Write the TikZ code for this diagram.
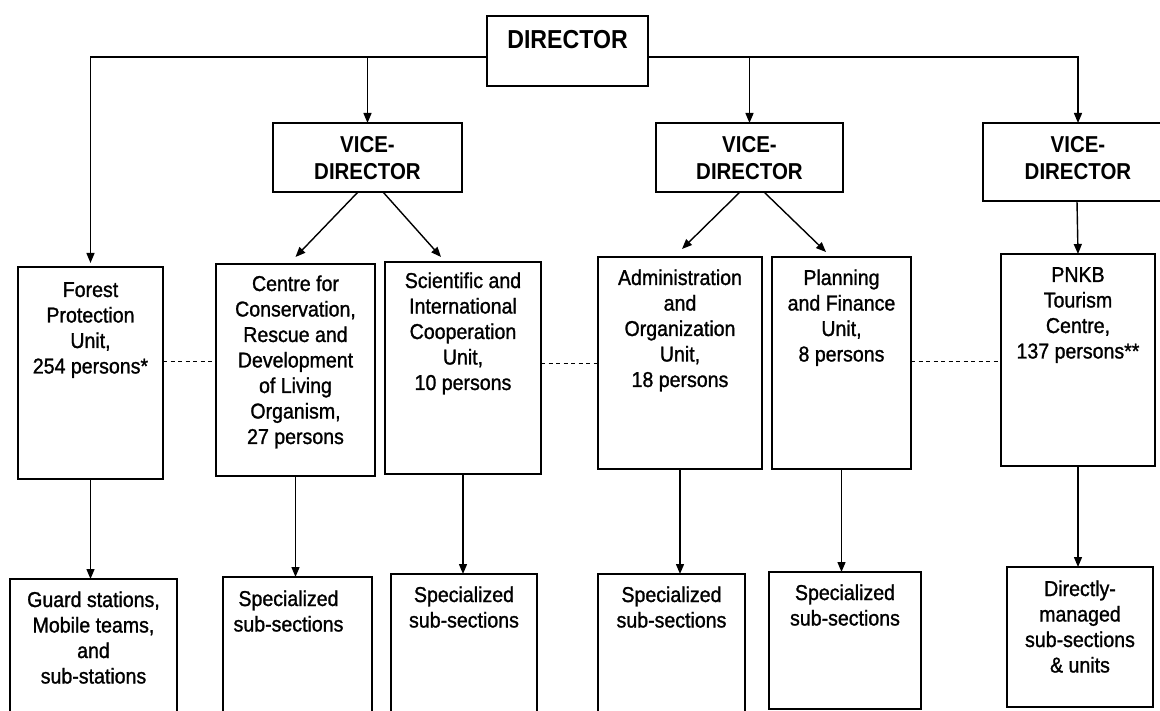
\documentclass[tikz,border=0pt]{standalone}
\usepackage{fontspec}
\usetikzlibrary{arrows.meta}
\newfontfamily\bodyfont{Liberation Sans}[FakeStretch=0.91, FakeBold=1.2]
\newfontfamily\headfont{Liberation Sans}[FakeStretch=0.89]
% box contents: width, height, first-baseline offset, text
\newcommand{\orgtext}[4]{\parbox[c][#2pt][t]{#1pt}{\centering\vspace*{\dimexpr#3pt-0.7\baselineskip\relax}\strut #4}}
\begin{document}
\begin{tikzpicture}[x=1pt,y=-1pt,
  orgbox/.style={draw, line width=1.5pt, inner sep=0pt, outer sep=0pt, anchor=north west,
    font=\bodyfont\fontsize{21.5}{25.5}\selectfont},
  headbox/.style={orgbox, font=\headfont\bfseries\fontsize{23}{27}\selectfont},
  arr/.style={line width=1.4pt, -{Triangle[length=10pt,width=8pt]}},
  link/.style={line width=1pt, dash pattern=on 4pt off 3.5pt}]
\useasboundingbox (0,0) rectangle (1160,711);

% top level
\node[orgbox, font=\headfont\bfseries\fontsize{26}{30}\selectfont] (director) at (487,16) {\orgtext{161}{70}{33}{DIRECTOR}};
\coordinate (bus) at (0,57);

% vice-directors
\node[headbox] (vd1) at (273,123) {\orgtext{189}{69}{30}{VICE-\\DIRECTOR}};
\node[headbox] (vd2) at (656,123) {\orgtext{187}{69}{30}{VICE-\\DIRECTOR}};
\node[headbox] (vd3) at (983,123) {\orgtext{190}{78}{30}{VICE-\\DIRECTOR}};

% units
\node[orgbox] (forest) at (18,267) {\orgtext{145}{212}{30}{Forest\\Protection\\Unit,\\254 persons*}};
\node[orgbox] (centre) at (216,264) {\orgtext{159}{212}{27}{Centre for\\Conservation,\\Rescue and\\Development\\of Living\\Organism,\\27 persons}};
\node[orgbox] (sci) at (385,262) {\orgtext{156}{212}{26}{Scientific and\\International\\Cooperation\\Unit,\\10 persons}};
\node[orgbox] (admin) at (598,257) {\orgtext{164}{212}{28}{Administration\\and\\Organization\\Unit,\\18 persons}};
\node[orgbox] (plan) at (772,257) {\orgtext{139}{212}{28}{Planning\\and Finance\\Unit,\\8 persons}};
\node[orgbox] (pnkb) at (1001,254) {\orgtext{154}{212}{28}{PNKB\\Tourism\\Centre,\\137 persons**}};

% sub-units
\node[orgbox] (guard) at (10,579) {\orgtext{167}{150}{28}{Guard stations,\\Mobile teams,\\and\\sub-stations}};
\node[orgbox] (spec1) at (223,577) {\hspace*{-9pt}\orgtext{149}{150}{29}{Specialized\\sub-sections}\hspace*{9pt}};
\node[orgbox] (spec2) at (391,574) {\orgtext{146}{150}{28}{Specialized\\sub-sections}};
\node[orgbox] (spec3) at (598,574) {\orgtext{147}{150}{28}{Specialized\\sub-sections}};
\node[orgbox] (spec4) at (769,572) {\orgtext{152}{137}{28}{Specialized\\sub-sections}};
\node[orgbox] (direct) at (1007,567) {\orgtext{146}{140}{29}{Directly-\\managed\\sub-sections\\\& units}};

% lines from the director
\draw[arr] (director.west |- bus) -| ([yshift=4pt]forest.north);
\draw[arr] (director.east |- bus) -| (vd3.north);
\draw[arr] (vd1.north |- bus) -- (vd1.north);
\draw[arr] (vd2.north |- bus) -- (vd2.north);

% lines from the vice-directors
\draw[arr] ([xshift=-9.5pt]vd1.south) -- ([yshift=7pt]centre.north);
\draw[arr] ([xshift=15.5pt]vd1.south) -- ([xshift=-22pt,yshift=5pt]sci.north);
\draw[arr] ([xshift=-9.5pt]vd2.south) -- ([xshift=2pt,yshift=8pt]admin.north);
\draw[arr] ([xshift=14.5pt]vd2.south) -- ([xshift=-15.5pt,yshift=5pt]plan.north);
\draw[arr] ([xshift=-1pt]vd3.south) -- (pnkb.north);

% lines to the sub-units
\draw[arr] (forest.south) -- (forest.south |- guard.north);
\draw[arr] (centre.south) -- (centre.south |- spec1.north);
\draw[arr] (sci.south) -- (sci.south |- spec2.north);
\draw[arr] (admin.south) -- (admin.south |- spec3.north);
\draw[arr] (plan.south) -- (plan.south |- spec4.north);
\draw[arr] (pnkb.south) -- (pnkb.south |- direct.north);

% dashed links between units
\coordinate (la) at (0,362);
\coordinate (lb) at (0,364);
\draw[link] (forest.east |- la) -- (centre.west |- la);
\draw[link] (sci.east |- lb) -- (admin.west |- lb);
\draw[link] (plan.east |- la) -- (pnkb.west |- la);
\end{tikzpicture}
\end{document}
